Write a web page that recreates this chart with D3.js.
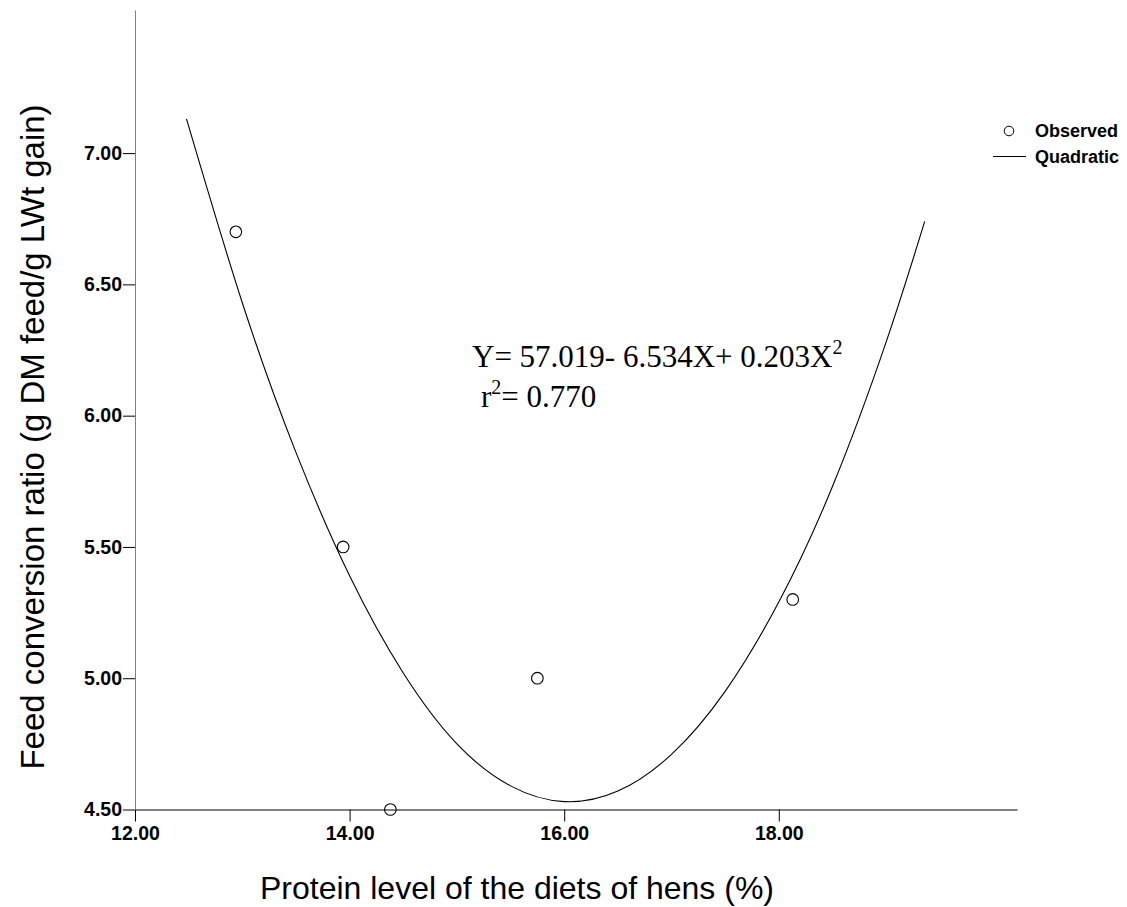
<!DOCTYPE html>
<html lang="en">
<meta charset="UTF-8">
<title>Feed conversion ratio vs protein level</title>
<script src="https://d3js.org/d3.v7.min.js"></script>
<style>
  body { margin: 0; background: #fff; }
  .tick text { font-family: "Liberation Sans", Arial, sans-serif; font-weight: bold; font-size: 19.5px; fill: #000; }
  .title { font-family: "Liberation Sans", Arial, sans-serif; font-size: 32px; fill: #000; }
  .eq { font-family: "Liberation Serif", "Times New Roman", serif; font-size: 31px; fill: #000; }
  .legend { font-family: "Liberation Sans", Arial, sans-serif; font-weight: bold; font-size: 18px; fill: #000; }
</style>
<body>
<div id="chart"></div>
<script>
// observed points (protein %, FCR)
var proteinLevel = [12.94, 13.94, 14.38, 15.75, 18.13];
var feedConversion = [6.70, 5.50, 4.50, 5.00, 5.30];

// quadratic fit line
var fitX = [12.48, 13.0, 13.5, 14.0, 14.5, 15.0, 15.5, 16.0, 16.5, 17.0, 17.5, 18.0, 18.5, 19.0, 19.36];
var fitY = [7.13, 6.43, 5.86, 5.39, 5.02, 4.75, 4.59, 4.53, 4.57, 4.71, 4.95, 5.29, 5.73, 6.28, 6.74];

var xTicks = [12, 14, 16, 18];
var yTicks = [4.5, 5.0, 5.5, 6.0, 6.5, 7.0];

var W = 1127, H = 907;
var svg = d3.select("#chart").append("svg")
    .attr("width", W)
    .attr("height", H);

var x = d3.scaleLinear().domain([12, 20.22]).range([135, 1017]);
var y = d3.scaleLinear().domain([4.5, 7.545]).range([809.5, 10]);

// x axis
var xAxis = svg.append("g")
    .attr("transform", "translate(0," + y(4.5) + ")")
    .call(d3.axisBottom(x).tickValues(xTicks).tickFormat(d3.format(".2f"))
        .tickSize(12).tickSizeOuter(0).tickPadding(5));
xAxis.select(".domain").attr("stroke", "#000");
xAxis.selectAll(".tick line").attr("stroke", "#000");

// y axis
var yAxis = svg.append("g")
    .attr("transform", "translate(" + x(12) + ",0)")
    .call(d3.axisLeft(y).tickValues(yTicks).tickFormat(d3.format(".2f"))
        .tickSize(12).tickSizeOuter(0).tickPadding(1));
yAxis.select(".domain").attr("stroke", "#7f7f7f");
yAxis.selectAll(".tick line").attr("stroke", "#000");

// fitted curve
var line = d3.line()
    .x(function(d) { return x(d[0]); })
    .y(function(d) { return y(d[1]); })
    .curve(d3.curveNatural);

svg.append("path")
    .datum(d3.zip(fitX, fitY))
    .attr("d", line)
    .attr("fill", "none")
    .attr("stroke", "#000")
    .attr("stroke-width", 1.1);

// observed points
svg.selectAll("circle.obs")
    .data(d3.zip(proteinLevel, feedConversion))
    .enter().append("circle")
    .attr("class", "obs")
    .attr("cx", function(d) { return x(d[0]); })
    .attr("cy", function(d) { return y(d[1]); })
    .attr("r", 5.8)
    .attr("fill", "none")
    .attr("stroke", "#000")
    .attr("stroke-width", 1.1);

// axis titles
svg.append("text")
    .attr("class", "title")
    .attr("x", 517)
    .attr("y", 899)
    .attr("text-anchor", "middle")
    .text("Protein level of the diets of hens (%)");

svg.append("text")
    .attr("class", "title")
    .attr("transform", "translate(44,437) rotate(-90)")
    .attr("text-anchor", "middle")
    .style("font-size", "33px")
    .text("Feed conversion ratio (g DM feed/g LWt gain)");

// equation
var eq1 = svg.append("text").attr("class", "eq").attr("x", 472).attr("y", 367);
eq1.append("tspan").text("Y= 57.019- 6.534X+ 0.203X");
eq1.append("tspan").attr("dy", -13).attr("font-size", "20px").text("2");

var eq2 = svg.append("text").attr("class", "eq").attr("x", 481).attr("y", 407);
eq2.append("tspan").text("r");
eq2.append("tspan").attr("dy", -13).attr("font-size", "20px").text("2");
eq2.append("tspan").attr("dy", 13).text("= 0.770");

// legend
var lg = svg.append("g");
lg.append("circle")
    .attr("cx", 1009).attr("cy", 131).attr("r", 4.8)
    .attr("fill", "none").attr("stroke", "#000");
lg.append("text").attr("class", "legend").attr("x", 1035).attr("y", 137).text("Observed");
lg.append("line")
    .attr("x1", 993).attr("x2", 1026).attr("y1", 156.5).attr("y2", 156.5)
    .attr("stroke", "#000");
lg.append("text").attr("class", "legend").attr("x", 1035).attr("y", 163).text("Quadratic");
</script>
</body>
</html>
